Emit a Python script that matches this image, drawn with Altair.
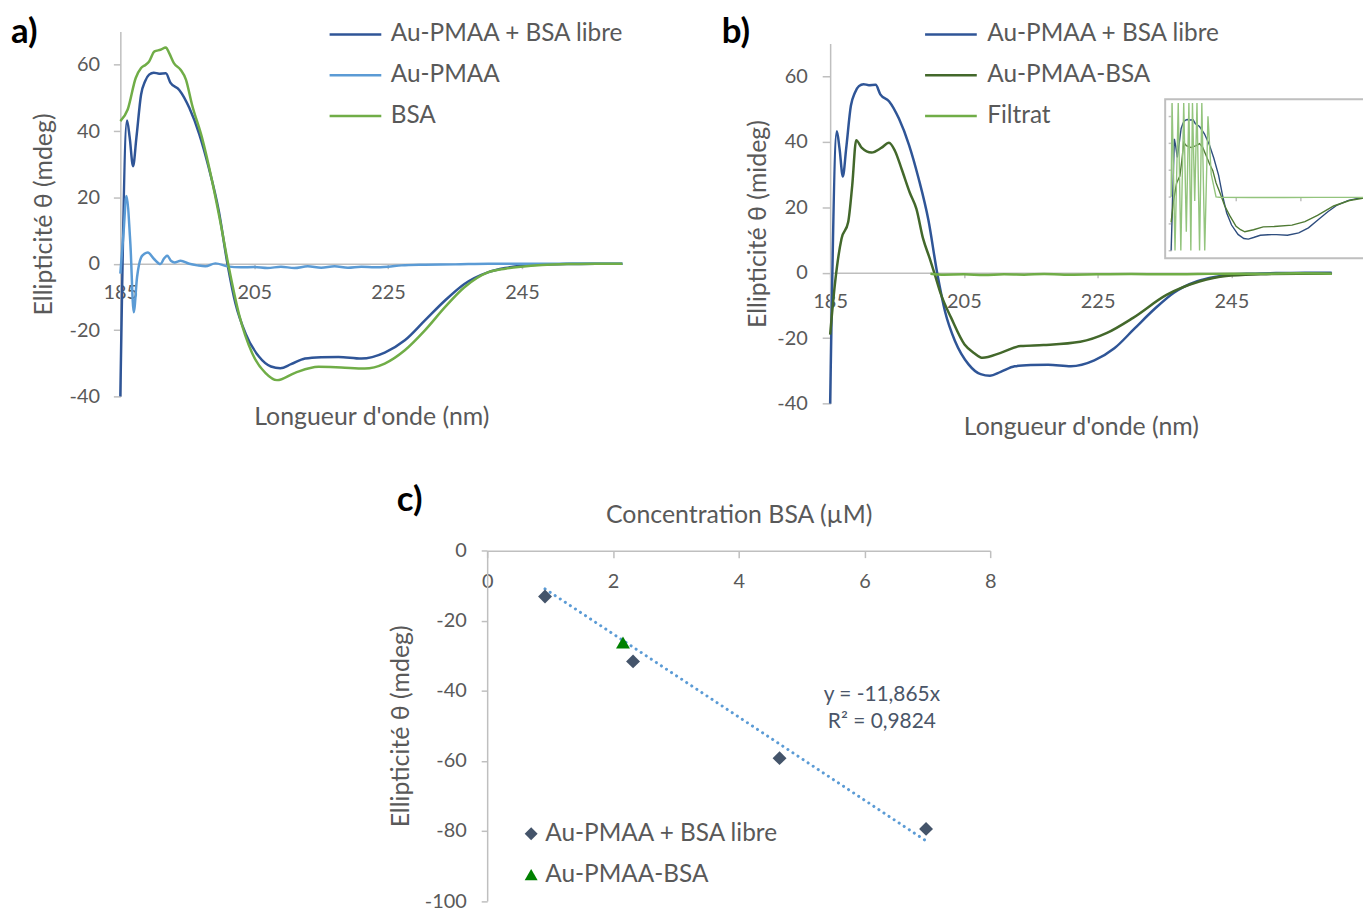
import altair as alt
import pandas as pd

# ---------------- data ----------------
# a) / b) : Au-PMAA + BSA libre
wl_libre = [185.0, 186.0, 186.4, 186.9, 187.4, 188.1, 188.7, 189.3, 190.0, 190.8, 191.8, 192.5, 193.8,
            195.3, 196.8, 198.2, 199.7, 201.0, 202.2, 203.7, 205.7, 207.5, 208.9, 210.5, 212.6, 215.0,
            217.6, 221.0, 224.5, 227.5, 230.5, 233.5, 236.4, 239.9, 242.5, 244.9, 248.0, 252.3, 256.0, 260.0]
val_libre = [-40.0, 43.2, 38.0, 29.4, 38.0, 51.0, 55.0, 57.0, 57.6, 57.3, 57.4, 54.5, 52.4,
             47.0, 39.0, 29.0, 16.0, 0.0, -12.0, -21.0, -28.0, -31.0, -31.5, -30.3, -28.6, -28.2,
             -28.1, -28.6, -26.8, -23.1, -17.1, -11.1, -6.1, -2.6, -1.3, -0.6, -0.3, -0.1, 0.0, 0.0]

# a) : Au-PMAA
wl_pmaa = [185.0, 185.5, 185.9, 186.5, 187.0, 187.5, 188.1, 188.6, 189.1, 190.0, 191.0, 191.5, 192.0,
           192.6, 193.1, 194.0, 195.3, 196.5, 197.7, 199.2, 201.0, 203.0, 205.0, 207.0, 209.0, 211.0,
           213.0, 215.0, 217.0, 219.0, 221.0, 223.0, 225.0, 227.0, 230.0, 235.0, 240.0, 245.0, 250.0,
           255.0, 260.0]
val_pmaa = [-3.0, 10.0, 20.4, 6.0, -14.6, -4.0, 1.9, 3.0, 3.4, 1.5, -0.1, 1.5, 2.4,
            0.8, 0.4, 0.9, 0.0, -0.5, -0.8, 0.1, -0.8, -1.1, -1.0, -1.3, -0.9, -1.3,
            -0.8, -1.2, -0.8, -1.2, -0.9, -1.1, -0.9, -0.5, -0.3, -0.2, 0.0, 0.0, 0.0,
            0.1, 0.0]

# a) : BSA
wl_bsa = [185.0, 186.1, 187.3, 188.1, 188.8, 189.3, 190.1, 191.0, 191.8, 192.3, 193.0, 194.0, 194.8,
          195.7, 197.2, 198.7, 199.9, 201.2, 202.7, 204.7, 206.7, 208.4, 211.1, 214.6, 218.0, 221.5,
          224.5, 227.5, 230.5, 233.5, 236.4, 239.9, 242.5, 244.9, 248.0, 252.3, 256.0, 260.0]
val_bsa = [43.0, 46.5, 56.0, 59.0, 60.0, 61.0, 64.0, 64.5, 65.2, 63.5, 60.5, 58.5, 55.5,
           48.0, 38.0, 25.0, 13.0, -1.0, -15.0, -27.0, -33.0, -35.1, -32.9, -31.1, -31.3, -31.6,
           -30.1, -26.1, -20.1, -13.1, -7.1, -2.6, -1.5, -0.9, -0.4, -0.1, 0.0, 0.0]

# b) : Au-PMAA-BSA
wl_pb = [185.0, 185.7, 186.7, 187.7, 188.3, 188.9, 189.7, 191.2, 192.7, 193.8, 194.7, 195.7, 196.9,
         197.9, 198.9, 199.9, 200.6, 201.6, 203.1, 205.1, 206.5, 207.8, 210.5, 213.5, 216.9, 222.4,
         226.4, 230.3, 235.3, 240.2, 244.2, 249.4, 255.0, 260.0]
val_pb = [-18.9, -3.7, 10.4, 15.5, 26.6, 40.5, 38.2, 36.7, 38.2, 39.7, 37.2, 31.6, 24.5,
          19.5, 10.4, 4.3, -0.2, -6.8, -13.8, -21.9, -24.5, -26.0, -24.5, -22.4, -22.1, -21.1,
          -18.4, -13.8, -6.8, -2.7, -1.0, -0.5, -0.3, -0.3]

# b) : Filtrat (main panel)
wl_filt = [200.0, 202.0, 205.0, 208.0, 211.0, 214.0, 217.0, 220.0, 225.0, 230.0, 235.0, 240.0,
           245.0, 250.0, 255.0, 260.0]
val_filt = [-0.3, -0.6, -0.5, -0.7, -0.5, -0.6, -0.4, -0.6, -0.5, -0.4, -0.5, -0.4,
            -0.3, -0.3, -0.2, -0.3]

# b) inset : Filtrat (noisy below 199 nm)
wl_filt_in = [185.0, 185.3, 186.2, 187.2, 188.0, 188.9, 189.7, 190.5, 191.1, 191.6, 192.3, 193.0,
              193.8, 194.5, 195.4, 196.4, 197.4, 198.9, 200.0, 210.0, 220.0, 230.0, 240.0, 250.0, 260.0]
val_filt_in = [0.0, 100.0, -100.0, 100.0, -100.0, 100.0, -26.0, 100.0, -100.0, 100.0, -3.0, 100.0,
               -100.0, 100.0, -100.0, 60.0, 17.0, 0.0, -0.3, -0.5, -0.5, -0.4, -0.4, -0.3, -0.3]

# c) : ellipticity vs BSA concentration
conc_libre = [0.92, 2.32, 4.65, 6.98]
ell_libre = [-13.1, -31.6, -59.2, -79.4]
conc_lie = [2.16]
ell_lie = [-26.2]
trend_x = [0.92, 6.98]
trend_slope = -11.865

names_a = ["Au-PMAA + BSA libre", "Au-PMAA", "BSA"]
colors_a = ["#2F5597", "#5B9BD5", "#70AD47"]
names_b = ["Au-PMAA + BSA libre", "Au-PMAA-BSA", "Filtrat"]
colors_b = ["#2F5597", "#43682B", "#70AD47"]
names_c = ["Au-PMAA + BSA libre", "Au-PMAA-BSA"]
colors_c = ["#44546A", "#008000"]
shapes_c = ["diamond", "triangle-up"]


def long(names, wls, vals):
    rows = []
    for n, w, v in zip(names, wls, vals):
        for a, b in zip(w, v):
            rows.append({"serie": n, "wl": a, "val": b})
    return pd.DataFrame(rows)


df_a = long(names_a, [wl_libre, wl_pmaa, wl_bsa], [val_libre, val_pmaa, val_bsa])
df_b = long(names_b, [wl_libre, wl_pb, wl_filt], [val_libre, val_pb, val_filt])
df_in = long(names_b, [wl_libre, wl_pb, wl_filt_in], [val_libre, val_pb, val_filt_in])
df_c = pd.DataFrame({"serie": [names_c[0]] * len(conc_libre) + [names_c[1]] * len(conc_lie),
                     "conc": conc_libre + conc_lie,
                     "ell": ell_libre + ell_lie})
df_trend = pd.DataFrame({"conc": trend_x, "ell": [trend_slope * v for v in trend_x]})
one = pd.DataFrame({"k": [0]})

# ---------------- layout (canvas = page - 8 px) ----------------
W, H = 1363, 898
FONT = "Lato"
GRAY = "#BFBFBF"
TXT = "#595959"
HYPHEN = "replace(datum.label, '\u2212', '-')"


def lin(d, r, v):
    return r[0] + (v - d[0]) * (r[1] - r[0]) / (d[1] - d[0])


dom_wl = [185, 260]
dom_el = [-40, 70]
rx_a, ry_a = [113, 618], [388, 21]
rx_b, ry_b = [827, 1331.5], [395.3, 33.1]
rx_i, ry_i = [1170, 1413.75], [241.3, 92.8]
dom_cx, dom_cy = [0, 8], [-100, 0]
rx_c, ry_c = [482, 988], [895.7, 543.2]

ax = dict(domainColor=GRAY, domainWidth=1.5, tickColor=GRAY, tickWidth=1.5,
          labelColor=TXT, labelFontSize=20, labelFont=FONT, labelFlush=False, labelExpr=HYPHEN,
          titleColor=TXT, titleFontSize=25, titleFont=FONT, titleFontWeight="normal", grid=False)


def sc(d, r, **kw):
    return alt.Scale(domain=d, range=r, nice=False, zero=False, **kw)


def line_legend(x, y, offset):
    return alt.Legend(orient="none", legendX=x, legendY=y, title=None, symbolType="stroke",
                      symbolSize=2704, symbolStrokeWidth=2.5, clipHeight=20, rowPadding=16,
                      labelOffset=offset, labelFontSize=24.5, labelColor=TXT, labelFont=FONT,
                      labelLimit=0, padding=0)


# panel a
layer_a = alt.Chart(df_a).mark_line(strokeWidth=2.5, interpolate="monotone").encode(
    x=alt.X("wl:Q", scale=sc(dom_wl, rx_a),
            axis=alt.Axis(orient="bottom", offset=lin(dom_el, ry_a, 0) - H,
                          values=[185, 205, 225, 245], tickSize=5, labelPadding=24,
                          labelBaseline="middle", title="Longueur d'onde (nm)",
                          titleY=154, titleBaseline="middle", **ax)),
    y=alt.Y("val:Q", scale=sc(dom_el, ry_a),
            axis=alt.Axis(orient="left", offset=-rx_a[0], values=[-40, -20, 0, 20, 40, 60],
                          tickSize=7, labelPadding=14, title="Ellipticité θ (mdeg)",
                          titleX=-77, titleBaseline="middle", **ax)),
    color=alt.Color("serie:N", scale=alt.Scale(domain=names_a, range=colors_a),
                    legend=line_legend(322, 14, 8)),
)

# panel b
layer_b = alt.Chart(df_b).mark_line(strokeWidth=2.5, interpolate="monotone").encode(
    x=alt.X("wl:Q", scale=sc(dom_wl, rx_b),
            axis=alt.Axis(orient="bottom", offset=lin(dom_el, ry_b, 0) - H,
                          values=[185, 205, 225, 245], tickSize=5, labelPadding=24,
                          labelBaseline="middle", title="Longueur d'onde (nm)",
                          titleY=155, titleBaseline="middle", **ax)),
    y=alt.Y("val:Q", scale=sc(dom_el, ry_b),
            axis=alt.Axis(orient="left", offset=-rx_b[0], values=[-40, -20, 0, 20, 40, 60],
                          tickSize=8, labelPadding=15, title="Ellipticité θ (mideg)",
                          titleX=-73, titleBaseline="middle", **ax)),
    color=alt.Color("serie:N", scale=alt.Scale(domain=names_b, range=colors_b),
                    legend=line_legend(921, 14, 9)),
)

# inset of panel b
inset_box = alt.Chart(one).mark_rect(fillOpacity=0, stroke=GRAY, strokeWidth=2, clip=True).encode(
    x=alt.value(1164), x2=alt.value(W + 20), y=alt.value(89), y2=alt.value(249))

layer_in = alt.Chart(df_in).mark_line(strokeWidth=1.4, clip=True).encode(
    x=alt.X("wl:Q", scale=sc(dom_wl, rx_i),
            axis=alt.Axis(orient="bottom", offset=lin(dom_el, ry_i, 0) - H, values=[205, 225],
                          tickSize=4, labels=False, domain=False, title=None, **ax)),
    y=alt.Y("val:Q", scale=sc(dom_el, ry_i, clamp=True),
            axis=alt.Axis(orient="left", offset=-rx_i[0], values=[-40, -20, 0, 20, 40, 60],
                          tickSize=3, labels=False, title=None,
                          **{**ax, "domainColor": "#E6E6E6"})),
    color=alt.Color("serie:N", scale=alt.Scale(domain=names_b, range=["#2E4D7E", "#4F7A34", "#93C47D"]),
                    legend=None),
)

# panel c
layer_trend = alt.Chart(df_trend).mark_line(strokeDash=[0.1, 6], strokeCap="round", strokeWidth=3,
                                            color="#5B9BD5").encode(
    x=alt.X("conc:Q", scale=sc(dom_cx, rx_c), axis=None),
    y=alt.Y("ell:Q", scale=sc(dom_cy, ry_c), axis=None),
)

layer_c = alt.Chart(df_c).mark_point(filled=True, size=196, opacity=1).encode(
    x=alt.X("conc:Q", scale=sc(dom_cx, rx_c),
            axis=alt.Axis(orient="bottom", offset=ry_c[1] - H, values=[0, 2, 4, 6, 8], tickSize=7,
                          labelPadding=24, labelBaseline="middle",
                          title="Concentration BSA (µM)", titleY=-36, titleBaseline="middle", **ax)),
    y=alt.Y("ell:Q", scale=sc(dom_cy, ry_c),
            axis=alt.Axis(orient="left", offset=-rx_c[0], values=[-100, -80, -60, -40, -20, 0],
                          tickSize=6, labelPadding=15, title="Ellipticité θ (mdeg)",
                          titleX=-87, titleBaseline="middle", **ax)),
    color=alt.Color("serie:N", scale=alt.Scale(domain=names_c, range=colors_c),
                    legend=alt.Legend(orient="none", legendX=514, legendY=818, title=None,
                                      symbolSize=170, clipHeight=20, rowPadding=16, labelOffset=2,
                                      labelFontSize=24.5, labelColor=TXT, labelFont=FONT,
                                      labelLimit=0, padding=0)),
    shape=alt.Shape("serie:N", scale=alt.Scale(domain=names_c, range=shapes_c)),
)


def label(txt, x, y, size, bold=False, color="#000000", align="left"):
    return alt.Chart(one).mark_text(text=txt, font=FONT, fontSize=size,
                                    fontWeight="bold" if bold else "normal",
                                    color=color, align=align, baseline="middle").encode(
        x=alt.value(x), y=alt.value(y))


labels = [
    label("a)", 3, 22, 35, True),
    label("b)", 718, 22, 35, True),
    label("c)", 391, 492, 35, True),
    label("y = -11,865x", 879, 688, 21, color="#4A5568", align="center"),
    label("R² = 0,9824", 879, 716, 21, color="#4A5568", align="center"),
]

chart = alt.layer(
    layer_a, layer_b, inset_box, layer_in, layer_trend, layer_c, *labels
).resolve_scale(
    x="independent", y="independent", color="independent", shape="independent"
).properties(
    width=W, height=H, padding=0
).configure(
    font=FONT
).configure_view(
    stroke=None
)

chart.save("out.html", embed_options={"renderer": "svg", "actions": False})
